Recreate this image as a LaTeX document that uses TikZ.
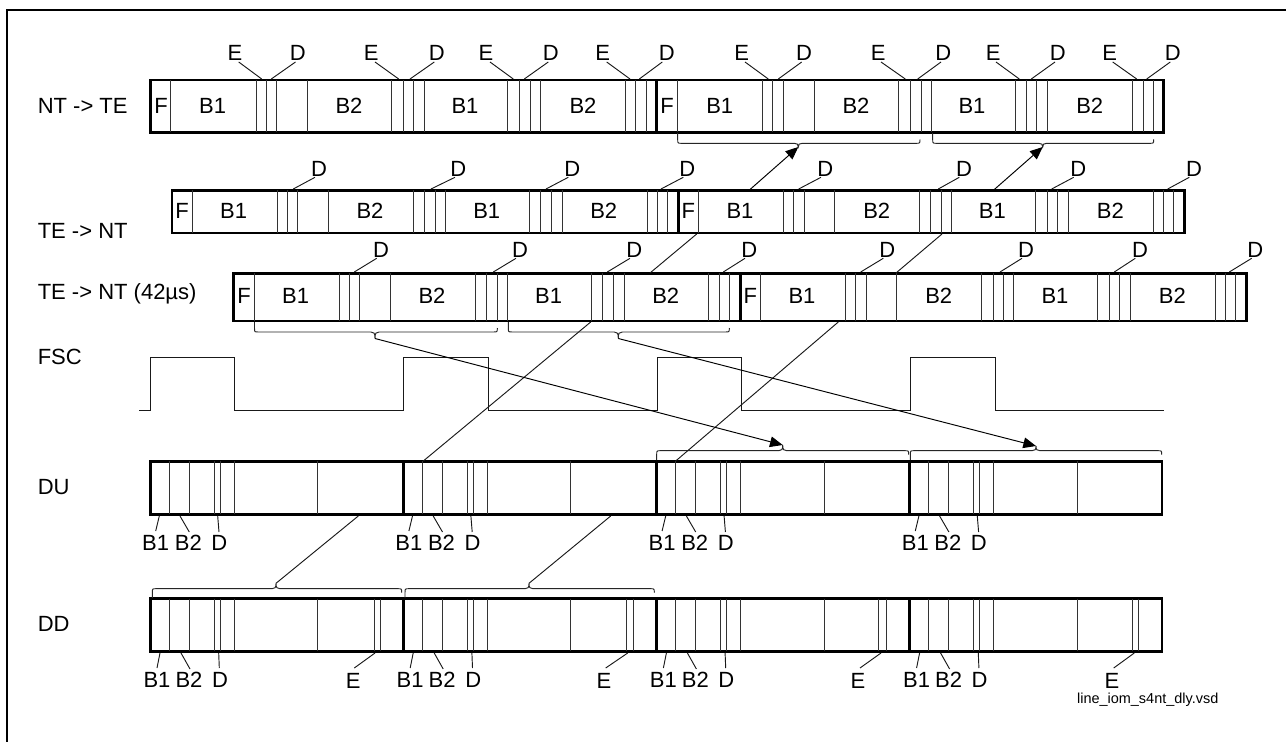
\documentclass[tikz,border=0pt]{standalone}
\usepackage{fontspec}
\setmainfont{Liberation Sans}
\usetikzlibrary{arrows.meta}
\tikzset{
  lbl/.style={font=\fontsize{16.5}{19}\selectfont,inner sep=0pt,anchor=base},
  sidelbl/.style={lbl,anchor=base west},
  smalllbl/.style={font=\fontsize{10.85}{13}\selectfont,inner sep=0pt,anchor=base},
  rowbox/.style={draw=black,line width=1.9pt,inner sep=0pt,outer sep=0pt,anchor=north west},
  sep/.style={line width=0.7pt,black!80},
  heavysep/.style={line width=2.2pt,black},
  lead/.style={line width=0.7pt,black!90},
  brc/.style={line width=0.72pt,black!85},
  wave/.style={line width=0.7pt,black!90},
  arr/.style={line width=0.72pt,black,-{Triangle[length=9.5pt,width=8pt]}},
  frameline/.style={line width=1.8pt,black},
}
% row box from (x1,y1) to (x2,y2), in pixel units
\newcommand\rowb[5]{%
  \pgfmathsetlengthmacro\rw{(#4-#2)*0.75pt}%
  \pgfmathsetlengthmacro\rh{(#5-#3)*0.75pt}%
  \node[rowbox,minimum width=\rw,minimum height=\rh] (#1) at (#2,#3) {};}
% connector between two named coordinates
\newcommand\lnk[4]{\coordinate (#1a) at (#3); \coordinate (#1b) at (#4); \draw[#2] (#1a) -- (#1b);}
% brace: name, x1, x2, xtip, ybase, ybrace, ytip
\newcommand\brc[7]{%
  \coordinate (#1) at (#4,#7);
  \pgfmathsetmacro\sg{(#6>#5)?1:-1}%
  \draw[brc] (#2,#5) -- (#2,#6-4*\sg) .. controls (#2,#6) and (#2,#6) .. (#2+4,#6)
    -- (#4-4,#6) .. controls (#4-1,#6) and (#4,#6+1*\sg) .. (#1)
    .. controls (#4,#6+1*\sg) and (#4+1,#6) .. (#4+4,#6)
    -- (#3-4,#6) .. controls (#3,#6) and (#3,#6) .. (#3,#6-4*\sg);}
\begin{document}
\begin{tikzpicture}[x=0.75pt,y=-0.75pt]
\useasboundingbox (0,0) rectangle (1286,742);
\fill[white] (0,0) rectangle (1286,742);
\coordinate (fa) at (7,742); \coordinate (fb) at (7,10); \coordinate (fc) at (1286,10);
\draw[frameline] (fa) -- (fb) -- (fc);

% ---- side labels
\node[sidelbl] (lnt) at (37.5,113.5) {NT -> TE};
\node[sidelbl] (lte) at (37.5,238.5) {TE -> NT};
\node[sidelbl] (lte42) at (37.5,299) {TE -> NT (42µs)};
\node[sidelbl] (lfsc) at (37.5,364) {FSC};
\node[sidelbl] (ldu) at (37.5,494.5) {DU};
\node[sidelbl] (ldd) at (37.5,631.5) {DD};

% ---- row 1
\rowb{rowa}{150.7}{80}{1163.7}{132.3}
\foreach \x in {170.5,256,266,276.7,307.3,391.7,403.3,413.7,424.3,507.7,519.3,530,540.3,625.7,635.7,646,677.7,762.7,772.7,783,814,898.7,910.3,921,931.3,1015,1026.3,1036.7,1047.3,1132.7,1143,1153.3}
  \draw[sep] (\x,80) -- (\x,132.3);
\draw[heavysep] (656.7,80) -- (656.7,132.3);
\foreach \k/\t/\x in {a/F/161,b/B1/212.7,c/B2/349,d/B1/465,e/B2/583,f/F/667,g/B1/719.7,h/B2/856,i/B1/972,j/B2/1089.7}
  \node[lbl] (ra\k) at (\x,113.5) {\t};
\foreach \k/\ex/\eax/\ebx/\dx/\dax/\dbx in {
  1/235/238.7/261.7/297.7/295.5/271.3,
  2/371.3/375/398.7/436.7/434.3/410,
  3/486/490/513.3/550.7/548.3/524.3,
  4/602.7/606.7/630/666.7/662.3/639.3,
  5/741.7/745/768.3/804/801.7/778.3,
  6/878.3/881/905.3/943.3/941/917.7,
  7/993.3/996/1019.3/1057.7/1055/1031.3,
  8/1109.7/1112.7/1136.7/1172.7/1170.3/1146.7}{
  \node[lbl] (rae\k) at (\ex,61) {E};
  \node[lbl] (rad\k) at (\dx,61) {D};
  \lnk{rale\k}{lead}{\eax,62}{\ebx,79}
  \lnk{rald\k}{lead}{\dax,62}{\dbx,79}
}

% ---- row 2
\rowb{rowb}{172}{190.3}{1184.3}{233}
\foreach \x in {192.3,277.3,287.3,297.7,328.7,413.7,424.7,435,445.7,529.3,540.7,551.3,562,647.3,657.3,667.7,698.3,783.3,793.3,804,834.7,919,930.3,941.3,951.7,1035.3,1047,1057.3,1068,1153.3,1163.3,1173.7}
  \draw[sep] (\x,190.3) -- (\x,233);
\draw[heavysep] (678.3,190.3) -- (678.3,233);
\foreach \k/\t/\x in {a/F/182,b/B1/233.7,c/B2/370,d/B1/486.7,e/B2/603.7,f/F/688.3,g/B1/740,h/B2/876.7,i/B1/992.3,j/B2/1110.3}
  \node[lbl] (rb\k) at (\x,218) {\t};
\foreach \k/\dx/\ax/\bx in {1/319/315/293.3,2/458.3/455/431,3/572.3/568.3/546,4/687.3/683.3/661,5/825.3/821/798.7,6/964/959.3/938.3,7/1078.3/1073.7/1051.7,8/1194/1189.3/1167.7}{
  \node[lbl] (rbd\k) at (\dx,176.7) {D};
  \lnk{rbl\k}{lead}{\ax,177.3}{\bx,189}
}

% ---- row 3
\rowb{rowc}{233.3}{273.3}{1246.7}{321}
\foreach \x in {254.3,339.3,349.3,359.7,390.3,475.3,486.7,497.3,507.7,591.3,602.7,613.3,624,708.7,719,729.7,760.3,845.7,855.7,866,896.7,981.3,993,1003.3,1013.7,1097.3,1109.3,1119.3,1130,1215,1225.3,1235.7}
  \draw[sep] (\x,273.3) -- (\x,321);
\draw[heavysep] (740.3,273.3) -- (740.3,321);
\foreach \k/\t/\x in {a/F/244,b/B1/295.7,c/B2/432,d/B1/548.7,e/B2/665.7,f/F/750.3,g/B1/802,h/B2/938.7,i/B1/1055,j/B2/1172.3}
  \node[lbl] (rc\k) at (\x,303.5) {\t};
\foreach \k/\dx/\ax/\bx in {1/381/376.7/354.3,2/520/516/493.3,3/634.3/630/607.3,4/749.3/745/723.3,5/887.3/883.3/860.7,6/1026/1022/1000,7/1140/1135.3/1114.3,8/1255.3/1251.7/1229.3}{
  \node[lbl] (rcd\k) at (\dx,257.5) {D};
  \lnk{rcl\k}{lead}{\ax,258.3}{\bx,272}
}

% ---- FSC
\coordinate (w0) at (139.3,410);
\draw[wave] (w0) -- (150.3,410) -- (150.3,357.3) -- (234.3,357.3) -- (234.3,410)
  -- (403.7,410) -- (403.7,357.3) -- (488.3,357.3) -- (488.3,410)
  -- (657,410) -- (657,357.3) -- (741.3,357.3) -- (741.3,410)
  -- (910.3,410) -- (910.3,357.3) -- (995.3,357.3) -- (995.3,410) -- (1163.7,410);

% ---- DU and DD
\rowb{rowd}{150.5}{461.3}{1162}{514.3}
\rowb{rowe}{150.5}{598.7}{1162}{651.3}
\foreach \x in {403.3,656.7,909.3}{
  \draw[heavysep] (\x,461.3) -- (\x,514.3);
  \draw[heavysep] (\x,598.7) -- (\x,651.3);
}
\foreach \o in {0,253.2,506.4,759.6}
  \foreach \x in {169.3,189.3,214.3,220,234.3,317.7}{
    \draw[sep] (\x+\o,461.3) -- (\x+\o,514.3);
    \draw[sep] (\x+\o,598.7) -- (\x+\o,651.3);
  }
\foreach \x in {374,380,626.3,633,878.7,886.3,1132.3,1138.7}
  \draw[sep] (\x,598.7) -- (\x,651.3);
\foreach \i/\o in {1/0,2/253.2,3/506.4,4/759.6}{
  \node[lbl] (dua\i) at (155.7+\o,550.5) {B1};
  \node[lbl] (dub\i) at (188.3+\o,550.5) {B2};
  \node[lbl] (duc\i) at (219.3+\o,550.5) {D};
  \lnk{dula\i}{lead}{159.3+\o,516}{155.7+\o,531}
  \lnk{dulb\i}{lead}{180+\o,516}{189.3+\o,532}
  \lnk{dulc\i}{lead}{217.7+\o,516}{219+\o,532}
  \node[lbl] (dda\i) at (157+\o,687.5) {B1};
  \node[lbl] (ddb\i) at (189+\o,687.5) {B2};
  \node[lbl] (ddc\i) at (220+\o,687.5) {D};
  \lnk{ddla\i}{lead}{160+\o,653}{157+\o,668}
  \lnk{ddlb\i}{lead}{181+\o,653}{190+\o,669}
  \lnk{ddlc\i}{lead}{218.7+\o,653}{219.3+\o,668}
}
\foreach \i/\e/\a/\b in {1/353.3/375/354.3,2/604/627.7/605.7,3/858/881/860,4/1112/1134.3/1113.7}{
  \node[lbl] (dde\i) at (\e,688.5) {E};
  \lnk{ddle\i}{lead}{\a,653}{\b,668}
}
\node[smalllbl] (fname) at (1147.7,703.3) {line\_iom\_s4nt\_dly.vsd};

% ---- braces
\brc{bra}{677.7}{920}{798.3}{133}{143.3}{147}
\brc{brb}{932.7}{1153.7}{1042.7}{133}{143.3}{147}
\brc{brc}{254.5}{497.3}{375}{322}{332}{338.5}
\brc{brd}{508.3}{729.3}{618.3}{322}{332}{338.5}
\brc{bre}{656.7}{908.7}{782.7}{460}{450.7}{445}
\brc{brf}{910.3}{1161.7}{1036}{460}{450.7}{446}
\brc{brg}{152.3}{401.7}{276}{598}{588.7}{583.3}
\brc{brh}{405}{654.3}{529}{598}{588.7}{583.3}

% ---- connectors between rows
\coordinate (aas) at (750,189.5);   \draw[arr] (aas) -- (bra);
\coordinate (abs) at (994.3,189.5); \draw[arr] (abs) -- (brb);
\lnk{xa}{lead}{696.7,234}{650,273}
\lnk{xb}{lead}{942,234}{896,273}
\lnk{xc}{lead}{590.7,322}{423.3,461}
\lnk{xd}{lead}{838.3,322}{675.7,461}
\draw[arr] (brc) -- (bre);
\draw[arr] (brd) -- (brf);
\coordinate (ygs) at (358.3,516); \draw[lead] (ygs) -- (brg);
\coordinate (yhs) at (610.7,516); \draw[lead] (yhs) -- (brh);
\end{tikzpicture}
\end{document}
